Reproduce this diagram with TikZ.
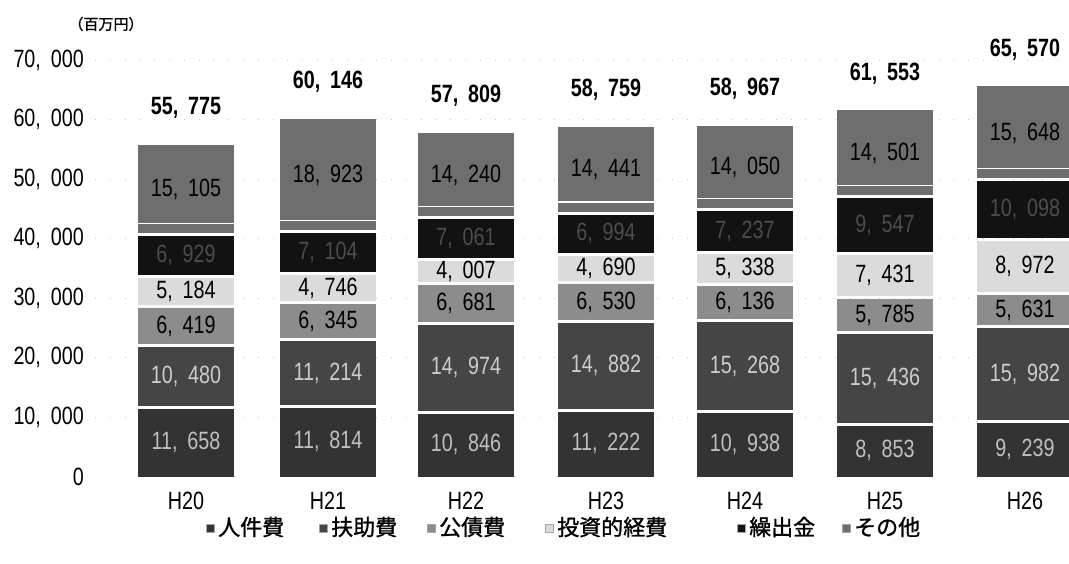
\documentclass[tikz,border=0pt]{standalone}
\usepackage{fontspec}
\setmainfont{Liberation Sans}
\newfontfamily\numf[FakeStretch=0.79, WordSpace=1.8]{Liberation Sans}
\newfontfamily\jpf{Noto Sans CJK JP}
\newfontfamily\jpbf[FakeBold=1.2]{Noto Sans CJK JP}
\definecolor{cA}{gray}{0.20}
\definecolor{cB}{gray}{0.27}
\definecolor{cC}{gray}{0.55}
\definecolor{cD}{gray}{0.86}
\definecolor{cE}{gray}{0.07}
\definecolor{cF}{gray}{0.43}
\begin{document}
\begin{tikzpicture}[x=1pt,y=-1pt,
  numlbl/.style={font=\numf\fontsize{25}{25}\selectfont, inner sep=0pt},
  totlbl/.style={font=\numf\bfseries\fontsize{25}{25}\selectfont, inner sep=0pt},
  leglbl/.style={font=\jpbf\fontsize{22}{22}\selectfont, inner sep=0pt, anchor=west},
  legmark/.style={draw=gray!70, line width=0.4pt, minimum size=8pt, inner sep=0pt},
  gridln/.style={gray!45, line width=0.8pt, dash pattern=on 0.8pt off 14pt}]
\useasboundingbox (0,0) rectangle (1069,563);
\fill[white] (0,0) rectangle (1069,563);
% grid dots
\foreach \k in {1,...,7}{
  \draw[gridln] (95,{477-59.57*\k}) -- (1069,{477-59.57*\k});
}
% y axis labels
\foreach \k/\t in {0/0,1/{10, 000},2/{20, 000},3/{30, 000},4/{40, 000},5/{50, 000},6/{60, 000},7/{70, 000}}{
  \node[numlbl, anchor=east] (ytick\k) at (84,{477-59.57*\k}) {\t};
}
\node[font=\jpbf\fontsize{15}{15}\selectfont, inner sep=0pt] (unit) at (106,24) {（百万円）};
% bars
\foreach \n/\xc/\a/\b/\c/\d/\e/\f/\la/\lb/\lc/\ld/\le/\lf/\lt in {
  20/186/11.658/10.480/6.419/5.184/6.929/15.105/{11, 658}/{10, 480}/{6, 419}/{5, 184}/{6, 929}/{15, 105}/{55, 775},
  21/328/11.814/11.214/6.345/4.746/7.104/18.923/{11, 814}/{11, 214}/{6, 345}/{4, 746}/{7, 104}/{18, 923}/{60, 146},
  22/466/10.846/14.974/6.681/4.007/7.061/14.240/{10, 846}/{14, 974}/{6, 681}/{4, 007}/{7, 061}/{14, 240}/{57, 809},
  23/606/11.222/14.882/6.530/4.690/6.994/14.441/{11, 222}/{14, 882}/{6, 530}/{4, 690}/{6, 994}/{14, 441}/{58, 759},
  24/745/10.938/15.268/6.136/5.338/7.237/14.050/{10, 938}/{15, 268}/{6, 136}/{5, 338}/{7, 237}/{14, 050}/{58, 967},
  25/885/8.853/15.436/5.785/7.431/9.547/14.501/{8, 853}/{15, 436}/{5, 785}/{7, 431}/{9, 547}/{14, 501}/{61, 553},
  26/1025/9.239/15.982/5.631/8.972/10.098/15.648/{9, 239}/{15, 982}/{5, 631}/{8, 972}/{10, 098}/{15, 648}/{65, 570}}{
  \pgfmathsetmacro\ya{477-5.957*\a}
  \pgfmathsetmacro\yb{\ya-5.957*\b}
  \pgfmathsetmacro\yc{\yb-5.957*\c}
  \pgfmathsetmacro\yd{\yc-5.957*\d}
  \pgfmathsetmacro\ye{\yd-5.957*\e}
  \pgfmathsetmacro\yf{\ye-5.957*\f}
  \fill[cA] (\xc-48,477) rectangle (\xc+48,\ya+1.5);
  \fill[cB] (\xc-48,\ya-1.5) rectangle (\xc+48,\yb+1.5);
  \fill[cC] (\xc-48,\yb-1.5) rectangle (\xc+48,\yc+1.5);
  \fill[cD] (\xc-48,\yc-1.5) rectangle (\xc+48,\yd+1.5);
  \fill[cE] (\xc-48,\yd-1.5) rectangle (\xc+48,\ye+1.5);
  \fill[cF] (\xc-48,\ye-1.5) rectangle (\xc+48,\yf);
  \draw[white, line width=1.2pt] (\xc-48,\ye-11) -- (\xc+48,\ye-11);
  \node[numlbl, text=white!75!black] (sa\n) at (\xc,{(477+\ya)/2}) {\la};
  \node[numlbl, text=white!80!black] (sb\n) at (\xc,{(\ya+\yb)/2}) {\lb};
  \node[numlbl, text=black] (sc\n) at (\xc,{(\yb+\yc)/2}) {\lc};
  \node[numlbl, text=black] (sd\n) at (\xc,{(\yc+\yd)/2}) {\ld};
  \node[numlbl, text=black!70] (se\n) at (\xc,{(\yd+\ye)/2}) {\le};
  \node[numlbl, text=black] (sf\n) at (\xc,{(\ye+\yf)/2}) {\lf};
  \node[totlbl] (tot\n) at (\xc,\yf-37) {\lt};
  \node[numlbl] (cat\n) at (\xc,501) {H\n};
}
% legend
\foreach \i/\x/\col/\t in {1/210/cA/人件費, 2/323/cB/扶助費, 3/431/cC/公債費, 4/549/cD/投資的経費, 5/741/cE/繰出金, 6/846/cF/その他}{
  \node[legmark, fill=\col] (lm\i) at (\x,528) {};
  \node[leglbl] (lt\i) at (\x+8,527) {\t};
}
\end{tikzpicture}
\end{document}
